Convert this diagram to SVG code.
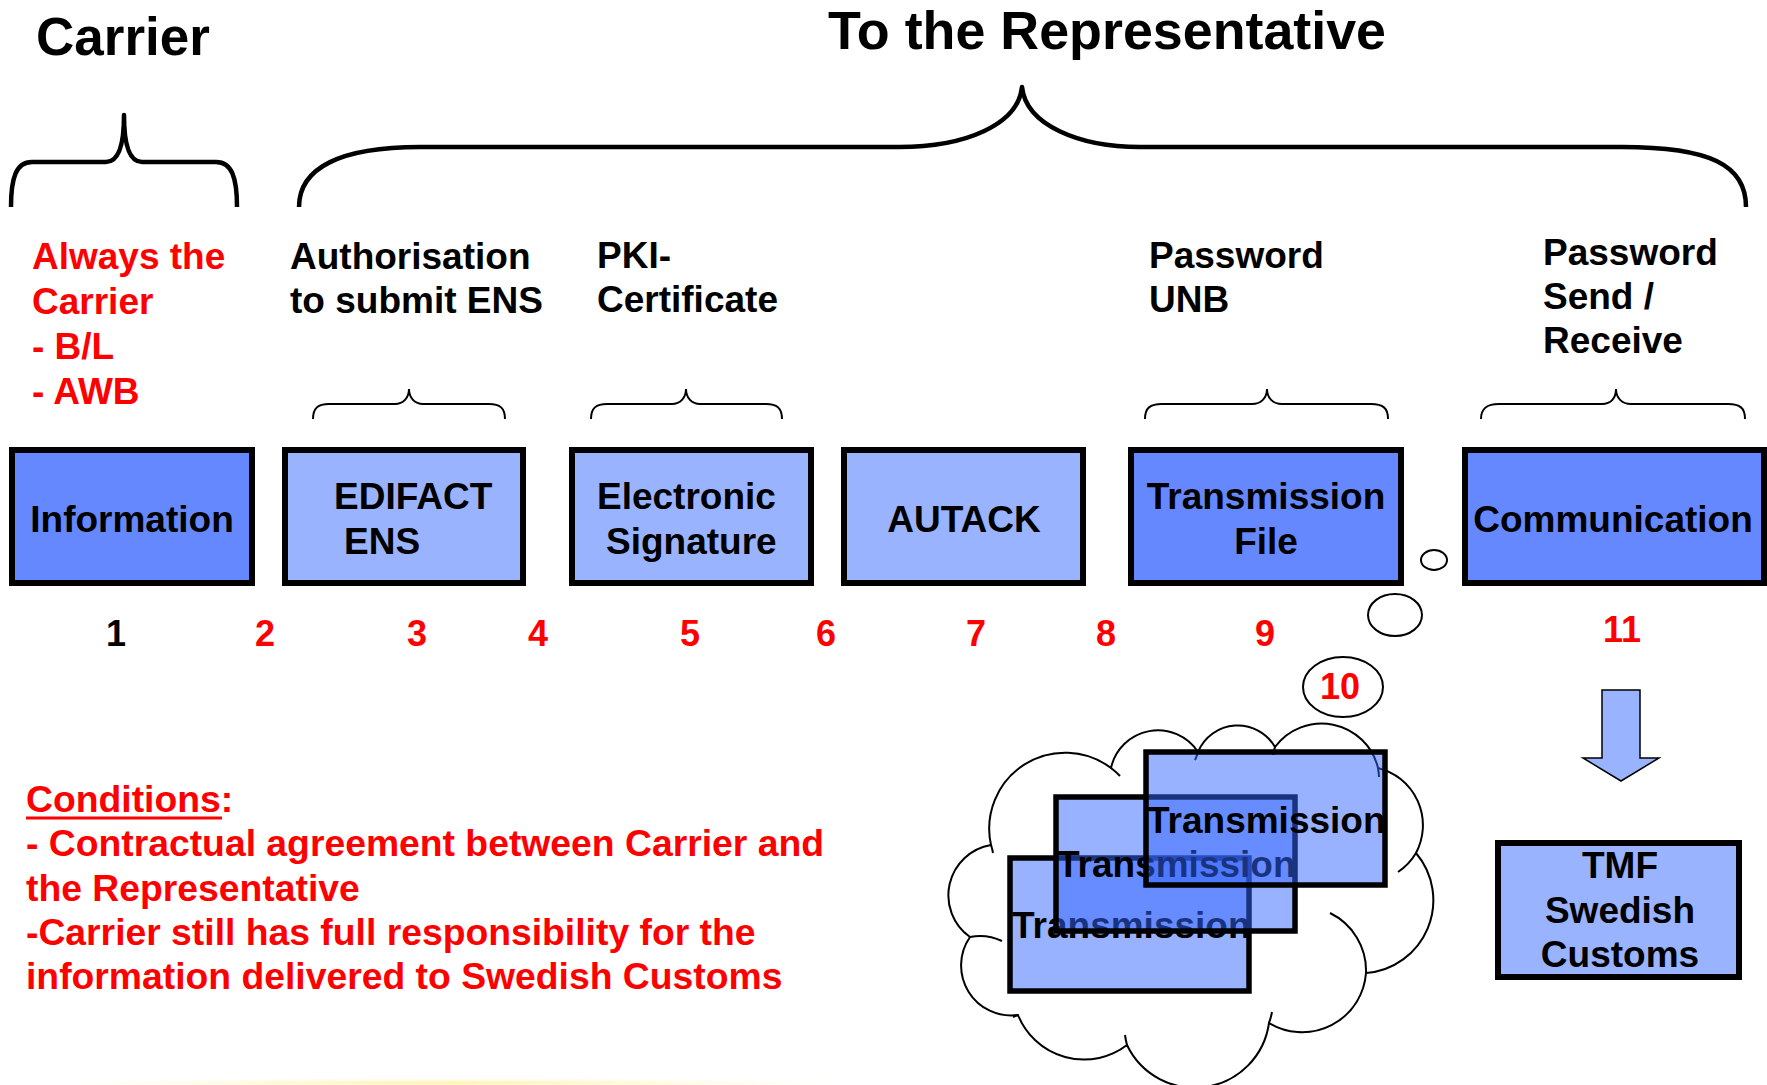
<svg xmlns="http://www.w3.org/2000/svg" width="1767" height="1085" viewBox="0 0 1767 1085">
<defs>
<style>
text{font-family:"Liberation Sans",Arial,sans-serif;font-weight:bold;}
.h{font-size:53px;fill:#000;}
.t{font-size:37px;fill:#000;}
.r{font-size:37px;fill:#ff0000;}
.c{font-size:37.3px;fill:#ff0000;}
.n{font-size:36px;fill:#ff0000;text-anchor:middle;}
.m{text-anchor:middle;}
.dark{fill:#6688ff;stroke:#000;stroke-width:6;}
.light{fill:#99b3ff;stroke:#000;stroke-width:6;}
.tr{fill:rgba(51,102,255,0.5);stroke:#000;stroke-width:5.5;}
.brace{fill:none;stroke:#000;stroke-width:4.5;stroke-linejoin:round;}
.sbrace{fill:none;stroke:#000;stroke-width:2;}
.thin{fill:#fff;stroke:#000;stroke-width:2;}
</style>
<radialGradient id="glow" cx="0.5" cy="0.5" r="0.5">
<stop offset="0" stop-color="#fff0a0" stop-opacity="0.9"/>
<stop offset="1" stop-color="#fff8d0" stop-opacity="0"/>
</radialGradient>
</defs>
<rect width="1767" height="1085" fill="#fff"/>
<ellipse cx="450" cy="1083" rx="400" ry="5" fill="url(#glow)"/>

<g id="headings">
<text class="h" x="36" y="55">Carrier</text>
<text class="h" x="828" y="49" style="font-size:53.8px">To the Representative</text>
</g>

<g id="braces">
<path class="brace" d="M11 207 C11 178 16 162 32 162 L106 162 C117 162 124 148 124 115 C124 148 131 162 142 162 L216 162 C232 162 237 178 237 207"/>
<path class="brace" d="M299 207 C299 168 340 147 420 147 L899 147 C965 147 1018 125 1022 87 C1026 125 1079 147 1140 147 L1622 147 C1710 147 1746 165 1746 207"/>
<path class="sbrace" d="M313 419 C313 408 318 404 329 404 L395 404 C403 404 409 398 409 389 C409 398 415 404 423 404 L489 404 C500 404 505 408 505 419"/>
<path class="sbrace" d="M591 419 C591 408 596 404 607 404 L672 404 C680 404 686 398 686 389 C686 398 692 404 700 404 L766 404 C777 404 782 408 782 419"/>
<path class="sbrace" d="M1145 419 C1145 408 1150 404 1162 404 L1252 404 C1261 404 1267 398 1267 389 C1267 398 1273 404 1282 404 L1371 404 C1383 404 1388 408 1388 419"/>
<path class="sbrace" d="M1481 419 C1481 408 1487 404 1499 404 L1602 404 C1611 404 1616 398 1616 389 C1616 398 1622 404 1631 404 L1728 404 C1740 404 1745 408 1745 419"/>
</g>

<g id="labels">
<text class="r" x="32" y="269">Always the</text>
<text class="r" x="32" y="314">Carrier</text>
<text class="r" x="32" y="359">- B/L</text>
<text class="r" x="32" y="404">- AWB</text>
<text class="t" x="290" y="269">Authorisation</text>
<text class="t" x="290" y="313">to submit ENS</text>
<text class="t" x="597" y="268">PKI-</text>
<text class="t" x="597" y="312">Certificate</text>
<text class="t" x="1149" y="268">Password</text>
<text class="t" x="1149" y="312">UNB</text>
<text class="t" x="1543" y="265">Password</text>
<text class="t" x="1543" y="309">Send /</text>
<text class="t" x="1543" y="353">Receive</text>
</g>

<g id="node-information">
<rect class="dark" x="12" y="450" width="240" height="133"/>
<text class="t m" x="132" y="532">Information</text>
</g>
<g id="node-edifact">
<rect class="light" x="285" y="450" width="238" height="133"/>
<text class="t" x="334" y="509">EDIFACT</text>
<text class="t" x="344" y="554">ENS</text>
</g>
<g id="node-signature">
<rect class="light" x="572" y="450" width="239" height="133"/>
<text class="t" x="597" y="509">Electronic</text>
<text class="t" x="606" y="554">Signature</text>
</g>
<g id="node-autack">
<rect class="light" x="844" y="450" width="239" height="133"/>
<text class="t m" x="964" y="532">AUTACK</text>
</g>
<g id="node-transmission-file">
<rect class="dark" x="1131" y="450" width="270" height="133"/>
<text class="t m" x="1266" y="509">Transmission</text>
<text class="t m" x="1266" y="554">File</text>
</g>
<g id="node-communication">
<rect class="dark" x="1465" y="450" width="299" height="133"/>
<text class="t m" x="1613" y="532">Communication</text>
</g>

<g id="numbers">
<text class="n" x="116" y="646" style="fill:#000">1</text>
<text class="n" x="265" y="646">2</text>
<text class="n" x="417" y="646">3</text>
<text class="n" x="538" y="646">4</text>
<text class="n" x="690" y="646">5</text>
<text class="n" x="826" y="646">6</text>
<text class="n" x="976" y="646">7</text>
<text class="n" x="1106" y="646">8</text>
<text class="n" x="1265" y="646">9</text>
<text class="n" x="1622" y="642">11</text>
</g>

<g id="bubbles">
<ellipse class="thin" cx="1434" cy="560" rx="13" ry="10"/>
<ellipse class="thin" cx="1395" cy="615" rx="27" ry="21"/>
<ellipse class="thin" cx="1343" cy="687" rx="40" ry="30"/>
<text class="n" x="1340" y="699">10</text>
</g>

<g id="cloud">
<path class="thin" d="M991 845 A76 76 0 0 1 1111 768 A48 48 0 0 1 1198 752 A43 43 0 0 1 1275 747 A58 58 0 0 1 1378 768 A59 59 0 0 1 1416 853 A73 73 0 0 1 1366 973 A64 64 0 0 1 1269 1023 A75 75 0 0 1 1127 1045 A71 71 0 0 1 1018 1015 A50 50 0 0 1 970 937 A51 51 0 0 1 991 845 Z"/>
<path fill="none" stroke="#000" stroke-width="2" d="M1111 768 A76 76 0 0 1 1120 776 M1198 752 A48 48 0 0 1 1195 760 M1275 747 A58 58 0 0 0 1273 755 M1378 768 A58 58 0 0 1 1379 777 M1416 853 A59 59 0 0 1 1398 872 M1330 913 A64 64 0 0 1 1366 973 M1269 1023 A75 75 0 0 0 1272 1012 M1127 1045 A75 75 0 0 1 1125 1035 M1018 1015 A71 71 0 0 1 1013 1017 M970 937 A51 51 0 0 1 1002 941 M991 845 A51 51 0 0 1 993 853"/>
</g>

<g id="node-transmission-stack">
<rect class="tr" x="1010" y="858" width="239" height="133"/>
<text class="t" x="1012" y="938">Transmission</text>
<rect class="tr" x="1056" y="797" width="239" height="134"/>
<text class="t" x="1057" y="877">Transmission</text>
<rect class="tr" x="1146" y="752" width="239" height="133"/>
<text class="t" x="1147" y="833">Transmission</text>
</g>

<g id="connectors">
<polygon points="1602,690 1640,690 1640,758 1659,758 1621,781 1583,758 1602,758" fill="#99b3ff" stroke="#000" stroke-width="1.5" stroke-linejoin="miter"/>
</g>

<g id="node-tmf">
<rect class="light" x="1498" y="843" width="241" height="134"/>
<text class="t m" x="1620" y="878">TMF</text>
<text class="t m" x="1620" y="923">Swedish</text>
<text class="t m" x="1620" y="967">Customs</text>
</g>

<g id="conditions">
<text class="c" x="26" y="812">Conditions:</text>
<line x1="26" y1="818" x2="222" y2="818" stroke="#ff0000" stroke-width="3"/>
<text class="c" x="26" y="856">- Contractual agreement between Carrier and</text>
<text class="c" x="26" y="901">the Representative</text>
<text class="c" x="26" y="945">-Carrier still has full responsibility for the</text>
<text class="c" x="26" y="989">information delivered to Swedish Customs</text>
</g>
</svg>
